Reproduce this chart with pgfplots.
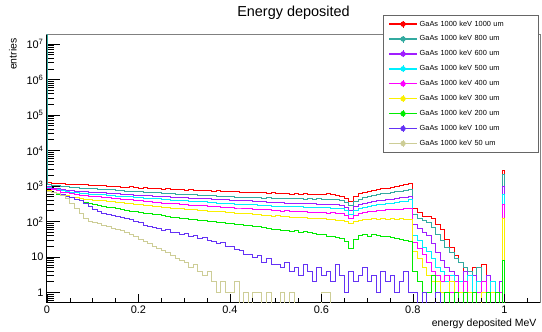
\documentclass[border=0pt]{standalone}
\usepackage{pgfplots}
\pgfplotsset{compat=1.18}
\usepackage{pgfplotstable}
\usepackage{fontspec}
\setmainfont{Liberation Sans}

% line colours of the nine thicknesses
\definecolor{c1000}{RGB}{255,0,0}
\definecolor{c800}{RGB}{51,170,160}
\definecolor{c600}{RGB}{160,30,255}
\definecolor{c500}{RGB}{0,240,255}
\definecolor{c400}{RGB}{255,0,255}
\definecolor{c300}{RGB}{250,240,0}
\definecolor{c200}{RGB}{0,235,0}
\definecolor{c100}{RGB}{100,50,245}
\definecolor{c50}{RGB}{205,205,150}

% energy deposited per bin (lower bin edge in MeV, entries per thickness in um)
\pgfplotstableread{
x     e1000 e800 e600 e500 e400 e300 e200 e100 e50
0     1250 3e7  960 900 870 770 720 700 700
0.002 1250 1080 960 900 870 770 720 700 700
0.01  1190 1030 880 825 785 675 640 640 650
0.02  1215 1005 840 785 735 615 590 600 600
0.03  1150 975 785 735 675 555 560 560 540
0.04  1120 950 765 710 645 525 515 510 440
0.05  1135 925 730 675 605 485 470 470 320
0.06  1090 910 725 660 590 470 425 430 230
0.07  1075 875 695 630 555 440 380 385 165
0.08  1100 870 695 620 545 430 352 330 125
0.09  1040 845 670 595 515 405 318 262 100
0.10  1050 840 672 594 512 404 302 222 92
0.11  1010 810 650 570 492 388 282 190 86
0.12  1030 805 648 564 485 384 272 172 78
0.13  985 785 622 545 465 364 252 158 74
0.14  960 775 618 538 458 358 242 150 64
0.15  990 755 600 518 437 341 226 138 60
0.16  940 740 594 514 431 338 217 132 55
0.17  925 720 580 496 412 321 203 122 49
0.18  950 720 578 494 408 318 197 116 42
0.19  900 695 556 476 392 302 186 100 37
0.20  880 690 558 474 388 300 181 92 32
0.21  905 665 542 458 372 289 170 78 28
0.22  850 665 538 454 365 287 167 74 24
0.23  870 645 520 436 352 272 156 66 20
0.24  835 640 524 435 348 270 153 64 17
0.25  815 620 502 420 332 257 144 55 15
0.26  840 620 498 418 331 252 141 58 13
0.27  800 605 488 402 317 240 133 50 11
0.28  815 595 482 403 315 238 131 49 9
0.29  790 580 466 386 302 226 123 44 8
0.30  770 580 465 385 300 224 121 45 7
0.31  795 560 452 372 292 214 114 39 5
0.32  760 565 448 370 290 212 113 40 6
0.33  745 545 452 357 280 203 106 34 4
0.34  770 555 432 358 278 202 105 35 3
0.35  730 530 433 345 268 194 99 29 4
0.36  715 535 415 344 268 194 99 28 2
0.37  740 515 427 333 258 186 93 24 1
0.38  705 520 408 332 257 186 93 25 2
0.39  720 500 406 323 248 178 87 20 1
0.40  690 505 398 322 248 178 87 20 1
0.41  705 485 392 312 240 171 82 16 2
0.42  675 490 383 312 240 172 83 15 0
0.43  660 475 380 302 230 164 77 12 1
0.44  680 480 382 302 230 164 77 12 0
0.45  650 465 368 293 222 158 72 10 1
0.46  665 470 362 292 222 158 71 11 1
0.47  640 452 366 283 213 150 66 7 0
0.48  625 462 350 282 214 150 65 9 1
0.49  645 448 347 274 206 143 61 6 0
0.50  615 445 338 273 206 144 61 6 0
0.51  630 455 347 266 198 138 57 5 1
0.52  605 438 333 266 200 139 57 7 0
0.53  590 450 330 259 193 133 53 4 1
0.54  615 432 320 258 194 134 55 5 0
0.55  580 445 332 262 188 128 50 3 0
0.56  600 428 316 249 188 130 53 6 0
0.57  585 440 314 256 182 123 48 4 0
0.58  570 422 321 245 183 124 47 2 0
0.59  595 435 306 251 178 118 44 5 0
0.60  580 428 305 243 180 120 42 3 1
0.61  600 420 312 249 174 114 39 4 1
0.62  570 425 298 240 176 116 37 2 0
0.63  545 405 296 236 170 110 35 6 0
0.64  505 385 284 227 164 107 33 3 0
0.65  445 345 255 205 150 99 28 1 0
0.66  360 285 205 160 122 88 17 4 0
0.67  500 370 265 210 150 101 31 2 0
0.68  600 430 305 240 168 107 40 3 0
0.69  660 470 328 255 176 114 42 5 0
0.70  715 500 346 268 188 112 39 2 0
0.71  770 545 362 284 190 119 43 3 0
0.72  790 565 382 293 200 114 40 1 0
0.73  850 605 392 306 202 121 38 4 0
0.74  870 620 412 316 212 116 39 2 0
0.75  930 660 422 332 213 123 35 3 0
0.76  955 685 448 343 222 117 34 1 0
0.77  1030 725 462 362 224 121 31 2 0
0.78  1080 745 488 378 234 114 30 4 0
0.79  1180 790 520 405 240 112 27 1 0
0.80  230 160 80 40 26 14 4 1 0
0.81  175 125 62 30 17 9 2 0 0
0.82  140 108 48 19 12 5 1 1 0
0.83  135 95 40 14 7 3 1 0 0
0.84  120 70 24 9 4 2 3 0 0
0.85  80 42 13 5 3 2 1 1 0
0.86  58 30 8 4 2 1 0 0 0
0.87  32 18 5 2 3 1 1 0 0
0.88  18 13 4 3 1 2 0 0 0
0.89  11 9 3 1 2 1 1 0 0
0.90  7 7 2 2 1 1 0 0 0
0.91  4 5 4 1 2 0 1 0 0
0.92  3 4 1 3 1 1 0 0 0
0.93  5 3 3 1 0 1 1 0 0
0.94  2 5 2 2 1 0 0 0 0
0.95  6 2 1 1 2 1 0 0 0
0.96  3 3 3 0 1 0 1 0 0
0.97  2 2 1 2 1 1 0 0 0
0.98  1 1 0 1 0 0 1 0 0
0.99  1 1 2 1 1 0 0 0 0
0.996 2760 2090 975 565 295 125 8 0 0
1.0   0 0 0 0 0 0 0 0 0
1.078 0 0 0 0 0 0 0 0 0
}\spectra

% empty bins are drawn on the floor of the log axis
\newcommand{\hist}[2]{%
  \addplot[const plot, no markers, #1, line width=0.9bp]
    table[x=x, y expr={max(\thisrow{#2},0.3)}] {\spectra};}

\begin{document}
\begin{tikzpicture}
\begin{axis}[
  width=493bp, height=267bp, scale only axis,
  xmin=0, xmax=1.078,
  ymode=log, ymin=0.539, ymax=1.8e7,
  xtick=\empty,
  ytick={1,10,100,1000,10000,100000,1000000,10000000},
  yticklabels={1,10,10\textsuperscript{2},10\textsuperscript{3},10\textsuperscript{4},10\textsuperscript{5},10\textsuperscript{6},10\textsuperscript{7}},
  minor ytick={0.6,0.7,0.8,0.9,2,3,4,5,6,7,8,9,20,30,40,50,60,70,80,90,
    200,300,400,500,600,700,800,900,2000,3000,4000,5000,6000,7000,8000,9000,
    20000,30000,40000,50000,60000,70000,80000,90000,
    200000,300000,400000,500000,600000,700000,800000,900000,
    2000000,3000000,4000000,5000000,6000000,7000000,8000000,9000000},
  ytick pos=left, tick align=inside,
  major tick length=13bp, minor tick length=7bp,
  tick style={black, line width=0.7bp},
  axis line style={draw=gray, line width=1bp},
  ticklabel style={font=\fontsize{11}{13}\selectfont},
  clip mode=individual,
  title={Energy deposited},
  title style={at={(axis description cs:0.5,1)}, anchor=base, yshift=12.5bp,
    font=\fontsize{14.5}{17}\selectfont},
  ylabel={entries},
  ylabel style={at={(axis description cs:-0.0615,1)}, anchor=base east,
    font=\fontsize{10.5}{12}\selectfont},
  xlabel={energy deposited MeV},
  xlabel style={at={(axis description cs:1,-0.09)}, anchor=base east,
    font=\fontsize{10.5}{12}\selectfont},
  legend cell align=left,
  legend style={at={(axis description cs:0.6815,1.0749)}, anchor=north west,
    draw=gray!80!black, line width=0.8bp, fill=white,
    inner xsep=5bp, inner ysep=3.3bp, row sep=4.1bp,
    font=\fontsize{7.4}{8.6}\selectfont,
    nodes={text width=111.6bp, align=left}},
  legend image code/.code={
    \draw[#1, line width=1.3bp] (0bp,0bp) -- (28bp,0bp);
    \draw[#1, line width=0.9bp] (14bp,-3.5bp) -- (14bp,3.5bp);
    \fill[#1] (14bp,0bp) circle (2.2bp);
  },
]
\draw[black, line width=1bp] (rel axis cs:0,1) -- (rel axis cs:0,0) -- (rel axis cs:1,0);
\hist{c1000}{e1000}
\addlegendentry{GaAs 1000 keV 1000 um}
\hist{c800}{e800}
\addlegendentry{GaAs 1000 keV 800 um}
\hist{c600}{e600}
\addlegendentry{GaAs 1000 keV 600 um}
\hist{c500}{e500}
\addlegendentry{GaAs 1000 keV 500 um}
\hist{c400}{e400}
\addlegendentry{GaAs 1000 keV 400 um}
\hist{c300}{e300}
\addlegendentry{GaAs 1000 keV 300 um}
\hist{c200}{e200}
\addlegendentry{GaAs 1000 keV 200 um}
\hist{c100}{e100}
\addlegendentry{GaAs 1000 keV 100 um}
\hist{c50}{e50}
\addlegendentry{GaAs 1000 keV 50 um}
\end{axis}
% energy axis ticks, shorter than those of the log axis
\begin{axis}[
  width=493bp, height=267bp, scale only axis,
  xmin=0, xmax=1.078, ymin=0, ymax=1,
  ytick=\empty,
  xtick={0,0.2,0.4,0.6,0.8,1},
  xticklabels={0,0.2,0.4,0.6,0.8,1},
  minor xtick={0.05,0.1,0.15,0.25,0.3,0.35,0.45,0.5,0.55,0.65,0.7,0.75,0.85,0.9,0.95,1.05},
  xtick pos=left, tick align=inside,
  major tick length=8bp, minor tick length=4bp,
  tick style={black, line width=0.7bp},
  axis line style={draw=none},
  ticklabel style={font=\fontsize{11}{13}\selectfont},
]
\end{axis}
\pgfresetboundingbox
\path[use as bounding box] (-47bp,-30bp) rectangle (495bp,302bp);
\end{tikzpicture}
\end{document}
